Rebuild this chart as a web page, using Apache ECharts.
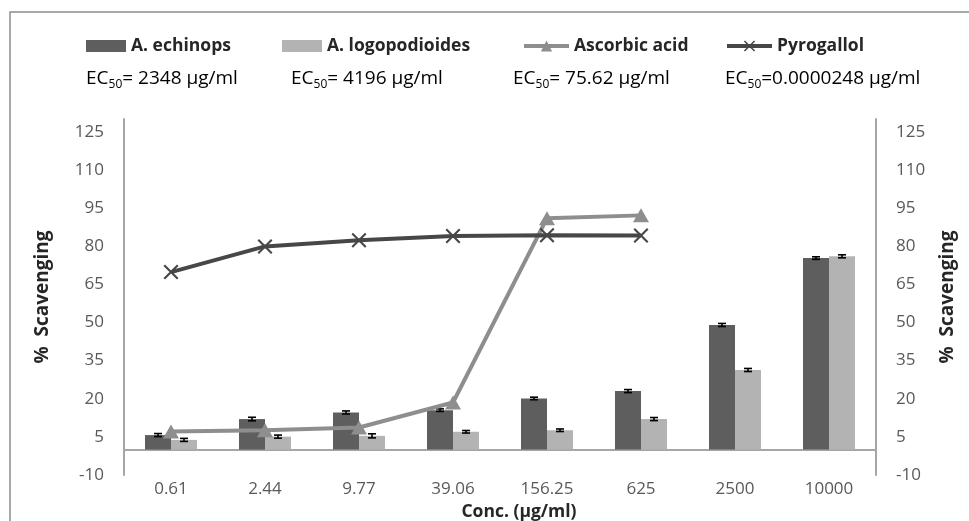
<!DOCTYPE html>
<html><head><meta charset="utf-8">
<script src="https://cdn.jsdelivr.net/npm/echarts@6/dist/echarts.min.js"></script>
<style>html,body{margin:0;padding:0;background:#fff}#c{width:969px;height:521px}</style>
</head><body><div id="c"></div>
<script>
// ---- data ----
const categories = ['0.61', '2.44', '9.77', '39.06', '156.25', '625', '2500', '10000'];
const echinops = [5.7, 12.0, 14.6, 15.5, 20.1, 23.0, 49.0, 75.3];
const echinopsErr = [0.6, 0.7, 0.6, 0.5, 0.5, 0.6, 0.6, 0.5];
const logopodioides = [3.8, 5.1, 5.4, 7.0, 7.6, 12.0, 31.3, 76.0];
const logopodioidesErr = [0.6, 0.6, 0.8, 0.5, 0.5, 0.6, 0.6, 0.6];
const ascorbic = [7.1, 7.6, 8.7, 18.5, 91.0, 92.1, null, null];
const pyrogallol = [69.8, 79.9, 82.3, 84.0, 84.3, 84.2, null, null];
const seriesNames = ['A. echinops', 'A. logopodioides', 'Ascorbic acid', 'Pyrogallol'];
const ec50Labels = ['2348 µg/ml', '4196 µg/ml', '75.62 µg/ml', '0.0000248 µg/ml'];
const ec50Sep = ['= ', '= ', '= ', '='];
const yMin = -10, yMax = 130, yStep = 15;

const FONT = '"Open Sans", Lato, sans-serif';
const DARK = '#5e5e5e', LIGHT = '#b3b3b3', ASC = '#8e8e8e', PYR = '#474747';

function errorSeries(vals, errs, offset) {
  return {
    type: 'custom', silent: true, z: 5,
    encode: { x: 0, y: 1 },
    data: vals.map((v, i) => [i, v, errs[i]]),
    renderItem: function (params, api) {
      const i = api.value(0), v = api.value(1), e = api.value(2);
      const x = api.coord([i, 0])[0] + offset;
      const hi = api.coord([i, v + e])[1];
      const lo = api.coord([i, v - e])[1];
      const w = 4;
      const st = { stroke: '#000', lineWidth: 1.6 };
      return { type: 'group', children: [
        { type: 'line', shape: { x1: x, y1: hi, x2: x, y2: lo }, style: st },
        { type: 'line', shape: { x1: x - w, y1: hi, x2: x + w, y2: hi }, style: st },
        { type: 'line', shape: { x1: x - w, y1: lo, x2: x + w, y2: lo }, style: st }
      ]};
    }
  };
}

const legendText = { fontFamily: FONT, fontSize: 17.5, fontWeight: 'bold', color: '#262626' };
const legendPos = [86, 282, 522, 725];
const ec50Pos = [86, 291, 513, 725];

const yAxisBase = {
  type: 'value', min: yMin, max: yMax, interval: yStep,
  splitLine: { show: false },
  axisTick: { show: false },
  axisLine: { show: true, lineStyle: { color: '#a6a6a6', width: 2 } },
  axisLabel: { showMaxLabel: false, fontFamily: FONT, fontSize: 17, color: '#595959', margin: 20 },
  name: '%  Scavenging', nameLocation: 'middle', nameRotate: 90,
  nameTextStyle: { fontFamily: FONT, fontSize: 19, fontWeight: 'bold', color: '#262626' }
};

const option = {
  animation: false,
  backgroundColor: '#fff',
  grid: { left: 124, right: 93, top: 119, bottom: 46, containLabel: false, outerBoundsMode: 'none' },
  legend: seriesNames.map((n, k) => ({
    data: [n], left: legendPos[k], top: 37, padding: 0,
    itemWidth: k < 2 ? 40 : 45, itemHeight: k < 2 ? 12 : 14,
    icon: k < 2 ? 'rect' : undefined,
    lineStyle: { width: 4 },
    itemGap: 0, textStyle: legendText, selectedMode: false
  })),
  graphic: [
    { type: 'rect', silent: true, shape: { x: 10, y: 12, width: 1000, height: 600 },
      style: { fill: 'none', stroke: '#8c8c8c', lineWidth: 1.5 } }
  ].concat(ec50Labels.map((t, k) => ({
    type: 'text', silent: true, left: ec50Pos[k], top: 69,
    style: {
      text: '{a|EC}{s|50}{a|' + ec50Sep[k] + t + '}',
      rich: {
        a: { fontFamily: FONT, fontSize: 19, color: '#1a1a1a', lineHeight: 24, verticalAlign: 'bottom' },
        s: { fontFamily: FONT, fontSize: 12, color: '#1a1a1a', lineHeight: 24, verticalAlign: 'bottom', padding: [0, 0, -3, 0] }
      }
    }
  }))),
  xAxis: {
    type: 'category', data: categories,
    axisLine: { onZero: true, onZeroAxisIndex: 0, lineStyle: { color: '#a6a6a6', width: 2 } },
    axisTick: { show: false },
    axisLabel: { fontFamily: FONT, fontSize: 17, color: '#595959', margin: 6 },
    name: 'Conc. (µg/ml)', nameLocation: 'middle', nameGap: 24,
    nameTextStyle: { fontFamily: FONT, fontSize: 17.5, fontWeight: 'bold', color: '#262626', padding: [0, 0, 0, 38] }
  },
  yAxis: [
    Object.assign({}, yAxisBase, { position: 'left', nameGap: 72 }),
    Object.assign({}, yAxisBase, { position: 'right', nameGap: 62 })
  ],
  series: [
    { name: seriesNames[0], type: 'bar', data: echinops, barWidth: 26, barGap: '0%', itemStyle: { color: DARK }, z: 2 },
    { name: seriesNames[1], type: 'bar', data: logopodioides, barWidth: 26, barGap: '0%', itemStyle: { color: LIGHT }, z: 2 },
    errorSeries(echinops, echinopsErr, -13),
    errorSeries(logopodioides, logopodioidesErr, 13),
    { name: seriesNames[2], type: 'line', data: ascorbic, z: 6,
      symbol: 'triangle', symbolSize: [16, 14], showAllSymbol: true,
      lineStyle: { color: ASC, width: 4 }, itemStyle: { color: ASC } },
    { name: seriesNames[3], type: 'line', data: pyrogallol, z: 7,
      symbol: 'path://M0,1L1,0L5,4L9,0L10,1L6,5L10,9L9,10L5,6L1,10L0,9L4,5Z', symbolSize: 15, showAllSymbol: true,
      lineStyle: { color: PYR, width: 4 }, itemStyle: { color: PYR } }
  ]
};
const chart = echarts.init(document.getElementById('c'));
chart.setOption(option);
</script>
</body></html>
